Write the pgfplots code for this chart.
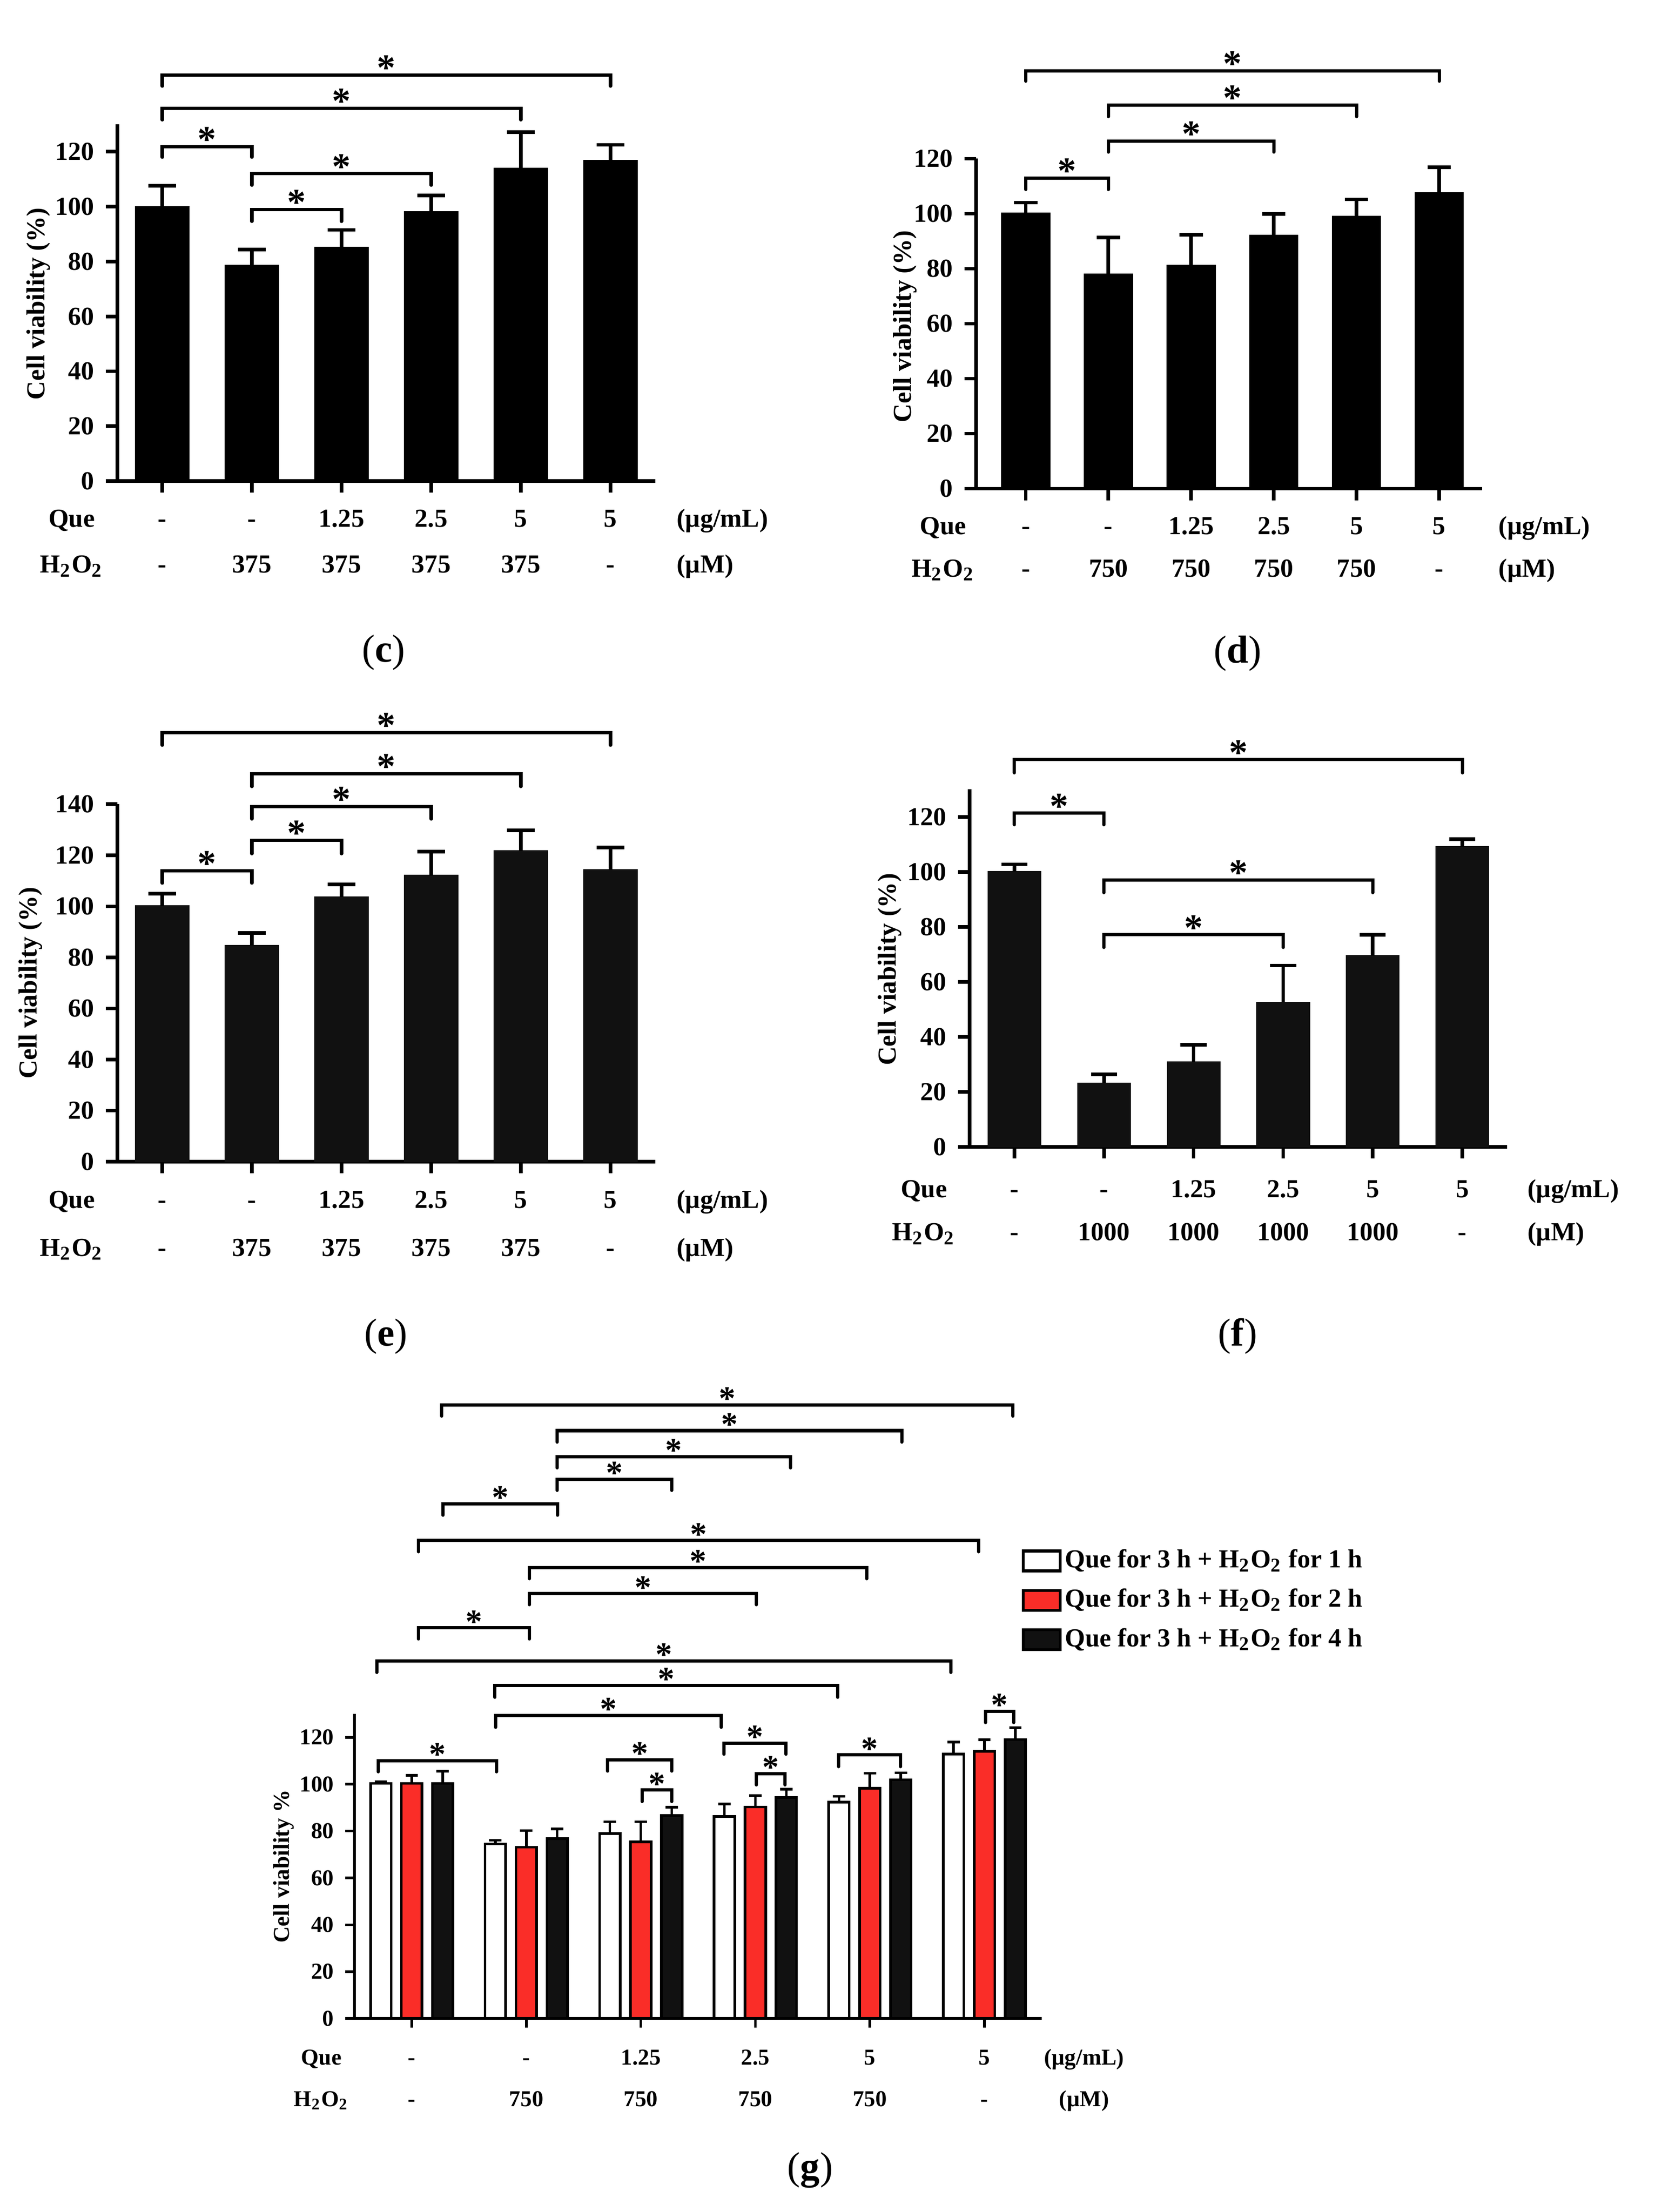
\documentclass[border=0pt]{standalone}
\usepackage{fontspec}
\setmainfont{Liberation Serif}
\usepackage{pgfplots}
\pgfplotsset{compat=1.18}
\usetikzlibrary{calc}
\definecolor{myred}{RGB}{250,45,40}
\definecolor{dk}{RGB}{17,17,17}
\newcommand{\lab}{\fontsize{8}{9.6}\selectfont\bfseries}
\newcommand{\labg}{\fontsize{7}{8.4}\selectfont\bfseries}
\newcommand{\Ht}{H\textsubscript{2}O\textsubscript{2}}
\tikzset{
 brk/.style={line width=1pt, line cap=round, line join=miter},
 st/.style={font=\fontsize{11.5}{11.5}\selectfont\bfseries, inner sep=0pt, anchor=base, yshift=-1.6pt},
 stg/.style={font=\fontsize{10.3}{10.3}\selectfont\bfseries, inner sep=0pt, anchor=base, yshift=-1.45pt},
 lb/.style={font=\lab, inner sep=0pt, anchor=base, yshift=-2.7pt},
 lbg/.style={font=\labg, inner sep=0pt, anchor=base, yshift=-2.4pt},
}
\newcommand{\br}[4]{\draw[brk] (axis cs:#1,#4) |- (axis cs:#2,#3) -- (axis cs:#2,#4); \node[st] at ($(axis cs:#1,#3)!0.5!(axis cs:#2,#3)$) {*};}
\newcommand{\brg}[4]{\draw[brk] (axis cs:#1,#4) |- (axis cs:#2,#3) -- (axis cs:#2,#4); \node[stg] at ($(axis cs:#1,#3)!0.5!(axis cs:#2,#3)$) {*};}
\newcommand{\row}[8]{\node[#1] at (axis cs:0,#2) {#3}; \node[#1] at (axis cs:1,#2) {#4}; \node[#1] at (axis cs:2,#2) {#5}; \node[#1] at (axis cs:3,#2) {#6}; \node[#1] at (axis cs:4,#2) {#7}; \node[#1] at (axis cs:5,#2) {#8};}
\pgfplotsset{
 vbar/.style={scale only axis, anchor=south west, axis x line=bottom, axis y line=left,
   axis line style={-, line width=1.1pt}, ymin=0, enlargelimits=false, clip=false, ybar,
   xtick={0,...,5}, xticklabels={}, tick align=outside, major tick length=3.6pt,
   tick style={line width=1.1pt, black}, yticklabel style={font=\lab},
   /pgf/number format/assume math mode=true},
 sbar/.style={bar shift=0, error bars/.cd, y dir=plus, y explicit,
   error bar style={line width=1.1pt, black},
   error mark options={rotate=90, line width=1.1pt, mark size=#1, black}},
}
\begin{document}
\begin{tikzpicture}
\path[use as bounding box] (0,0) rectangle (17.9cm,23.935cm);
% ---------- (c)
\begin{axis}[vbar, at={(1.27cm,18.73cm)}, width=5.82cm, height=3.86cm, xmin=-0.5, xmax=5.5, ymax=130, ytick={0,20,...,120}]
\addplot[fill=black, draw=black, bar width=0.59, sbar=4.2pt] coordinates {(0,100) +- (0,7.6) (1,78.6) +- (0,5.8) (2,85.1) +- (0,6.4) (3,98.1) +- (0,6.0) (4,114.0) +- (0,13.1) (5,116.8) +- (0,5.7)};
\br{0}{1}{121.8}{118}
\br{1}{3}{112}{107.8}
\br{1}{2}{99}{94.6}
\br{0}{4}{135.8}{131.6}
\br{0}{5}{148}{143.9}
\node[lb] at (axis cs:-1.01,-13.5) {Que};
\node[lb] at (axis cs:-1.01,-30.3) {\Ht};
\row{lb}{-13.5}{-}{-}{1.25}{2.5}{5}{5}
\row{lb}{-30.3}{-}{375}{375}{375}{375}{-}
\node[lb, anchor=base west] at (axis cs:5.73,-13.5) {(µg/mL)};
\node[lb, anchor=base west] at (axis cs:5.73,-30.3) {(µM)};
\node[font=\lab, rotate=90] at (axis cs:-1.38,64.6) {Cell viability (\%)};
\end{axis}
% ---------- (d)
\begin{axis}[vbar, at={(10.56cm,18.6475cm)}, width=5.475cm, height=3.57cm, xmin=-0.6, xmax=5.52, ymax=120, ytick={0,20,...,120}]
\addplot[fill=black, draw=black, bar width=0.58, sbar=3.6pt] coordinates {(0,100.1) +- (0,3.9) (1,78.0) +- (0,13.3) (2,81.1) +- (0,11.3) (3,92.1) +- (0,7.8) (4,99.0) +- (0,6.2) (5,107.5) +- (0,9.4)};
\br{0}{1}{113}{108.8}
\br{1}{3}{126.4}{122.4}
\br{1}{4}{139.5}{135.3}
\br{0}{5}{152}{148.2}
\node[lb] at (axis cs:-1.0,-13.5) {Que};
\node[lb] at (axis cs:-1.0,-28.9) {\Ht};
\row{lb}{-13.5}{-}{-}{1.25}{2.5}{5}{5}
\row{lb}{-28.9}{-}{750}{750}{750}{750}{-}
\node[lb, anchor=base west] at (axis cs:5.71,-13.5) {(µg/mL)};
\node[lb, anchor=base west] at (axis cs:5.71,-28.9) {(µM)};
\node[font=\lab, rotate=90] at (axis cs:-1.46,59) {Cell viability (\%)};
\end{axis}
% ---------- (e)
\begin{axis}[vbar, at={(1.27cm,11.365cm)}, width=5.82cm, height=3.868cm, xmin=-0.5, xmax=5.5, ymax=140, ytick={0,20,...,140}]
\addplot[fill=dk, draw=dk, bar width=0.59, sbar=4.2pt] coordinates {(0,100.1) +- (0,4.8) (1,84.6) +- (0,5.0) (2,103.7) +- (0,4.9) (3,112.1) +- (0,9.3) (4,121.7) +- (0,8.1) (5,114.3) +- (0,8.7)};
\br{0}{1}{113.9}{109.1}
\br{1}{2}{125.9}{120.6}
\br{1}{3}{139.1}{134.2}
\br{1}{4}{151.9}{146.9}
\br{0}{5}{168.1}{163.1}
\node[lb] at (axis cs:-1.01,-14.7) {Que};
\node[lb] at (axis cs:-1.01,-33.5) {\Ht};
\row{lb}{-14.7}{-}{-}{1.25}{2.5}{5}{5}
\row{lb}{-33.5}{-}{375}{375}{375}{375}{-}
\node[lb, anchor=base west] at (axis cs:5.73,-14.7) {(µg/mL)};
\node[lb, anchor=base west] at (axis cs:5.73,-33.5) {(µM)};
\node[font=\lab, rotate=90] at (axis cs:-1.47,70) {Cell viability (\%)};
\end{axis}
% ---------- (f)
\begin{axis}[vbar, at={(10.49cm,11.5265cm)}, width=5.815cm, height=3.8675cm, xmin=-0.5, xmax=5.5, ymax=130, ytick={0,20,...,120}]
\addplot[fill=dk, draw=dk, bar width=0.585, sbar=4pt] coordinates {(0,100.1) +- (0,2.6) (1,23.1) +- (0,3.2) (2,30.8) +- (0,6.3) (3,52.5) +- (0,13.4) (4,69.5) +- (0,7.6) (5,109.1) +- (0,2.8)};
\br{0}{1}{121.3}{117.1}
\br{1}{3}{77.1}{72.5}
\br{1}{4}{97}{92.4}
\br{0}{5}{140.8}{136}
\node[lb] at (axis cs:-1.01,-15.3) {Que};
\node[lb] at (axis cs:-1.01,-30.9) {\Ht};
\row{lb}{-15.3}{-}{-}{1.25}{2.5}{5}{5}
\row{lb}{-30.9}{-}{1000}{1000}{1000}{1000}{-}
\node[lb, anchor=base west] at (axis cs:5.72,-15.3) {(µg/mL)};
\node[lb, anchor=base west] at (axis cs:5.72,-30.9) {(µM)};
\node[font=\lab, rotate=90] at (axis cs:-1.39,64.5) {Cell viability (\%)};
\end{axis}
% ---------- (g)
\begin{axis}[vbar, at={(3.835cm,2.0935cm)}, width=7.435cm, height=3.296cm, xmin=-0.5, xmax=5.5, ymax=130, ytick={0,20,...,120},
  axis line style={-, line width=0.8pt}, tick style={line width=0.8pt, black}, major tick length=2.8pt,
  yticklabel style={font=\labg},
  legend style={at={(0.97,1.553)}, anchor=north west, draw=none, fill=none, inner sep=0pt, font=\lab, row sep=3pt, nodes={inner sep=1pt}},
  legend cell align=left,
  legend image code/.code={\draw[#1, line width=0.9pt] (0pt,-3.05pt) rectangle (11.4pt,3.05pt);}]
\addplot[fill=white, draw=black, line width=0.8pt, bar width=0.18, bar shift=-0.27, error bars/.cd, y dir=plus, y explicit, error bar style={line width=0.8pt, black}, error mark options={rotate=90, line width=0.8pt, mark size=1.9pt, black}] coordinates {(0,100.3) +- (0,0.8) (1,74.5) +- (0,1.6) (2,79.0) +- (0,5.0) (3,86.2) +- (0,5.3) (4,92.3) +- (0,2.5) (5,112.9) +- (0,5.1)};
\addlegendentry{Que for 3 h + \Ht{} for 1 h}
\addplot[fill=myred, draw=black, line width=0.8pt, bar width=0.18, bar shift=0, error bars/.cd, y dir=plus, y explicit, error bar style={line width=0.8pt, black}, error mark options={rotate=90, line width=0.8pt, mark size=1.9pt, black}] coordinates {(0,100.3) +- (0,3.5) (1,73.1) +- (0,7.1) (2,75.4) +- (0,8.6) (3,90.3) +- (0,4.8) (4,98.3) +- (0,6.4) (5,114.1) +- (0,4.9)};
\addlegendentry{Que for 3 h + \Ht{} for 2 h}
\addplot[fill=dk, draw=black, line width=0.8pt, bar width=0.18, bar shift=0.27, error bars/.cd, y dir=plus, y explicit, error bar style={line width=0.8pt, black}, error mark options={rotate=90, line width=0.8pt, mark size=1.9pt, black}] coordinates {(0,100.3) +- (0,5.3) (1,76.8) +- (0,4.1) (2,86.6) +- (0,3.6) (3,94.3) +- (0,3.6) (4,101.9) +- (0,3.0) (5,119.1) +- (0,5.0)};
\addlegendentry{Que for 3 h + \Ht{} for 4 h}
% within-group and white brackets
\brg{-0.293}{0.739}{110}{105.3}
\brg{1.710}{2.270}{110.4}{105.6}
\brg{2.012}{2.270}{97.5}{92.6}
\brg{2.725}{3.268}{117.5}{112.8}
\brg{3.010}{3.259}{104.5}{99.7}
\brg{3.727}{4.269}{112.5}{107.5}
\brg{5.009}{5.254}{131.1}{126.3}
\brg{0.731}{2.703}{129.3}{124.3}
\brg{0.726}{3.718}{142.1}{137.1}
\brg{-0.306}{4.707}{152.6}{147.7}
% red brackets
\brg{0.057}{1.028}{166.7}{162.0}
\brg{1.028}{3.010}{181.3}{176.6}
\brg{1.028}{3.972}{192.4}{187.7}
\brg{0.057}{4.948}{204.0}{199.2}
% black brackets
\brg{0.271}{1.273}{219.7}{214.8}
\brg{1.269}{2.270}{230.1}{225.4}
\brg{1.269}{3.307}{239.8}{235.0}
\brg{1.269}{4.278}{250.9}{246.0}
\brg{0.262}{5.249}{261.9}{257.1}
\node[lbg] at (axis cs:-0.79,-16.5) {Que};
\node[lbg] at (axis cs:-0.79,-34.1) {\Ht};
\row{lbg}{-16.5}{-}{-}{1.25}{2.5}{5}{5}
\row{lbg}{-34.1}{-}{750}{750}{750}{750}{-}
\node[lbg] at (axis cs:5.87,-16.5) {(µg/mL)};
\node[lbg] at (axis cs:5.87,-34.1) {(µM)};
\node[font=\labg, rotate=90] at (axis cs:-1.12,64.9) {Cell viability \%};
\end{axis}
% panel labels
\node[font=\fontsize{12}{12}\selectfont] at (4.15cm,16.875cm) {(\textbf{c})};
\node[font=\fontsize{12}{12}\selectfont] at (13.39cm,16.865cm) {(\textbf{d})};
\node[font=\fontsize{12}{12}\selectfont] at (4.175cm,9.475cm) {(\textbf{e})};
\node[font=\fontsize{12}{12}\selectfont] at (13.39cm,9.475cm) {(\textbf{f})};
\node[font=\fontsize{12}{12}\selectfont] at (8.765cm,0.45cm) {(\textbf{g})};
\end{tikzpicture}
\end{document}
